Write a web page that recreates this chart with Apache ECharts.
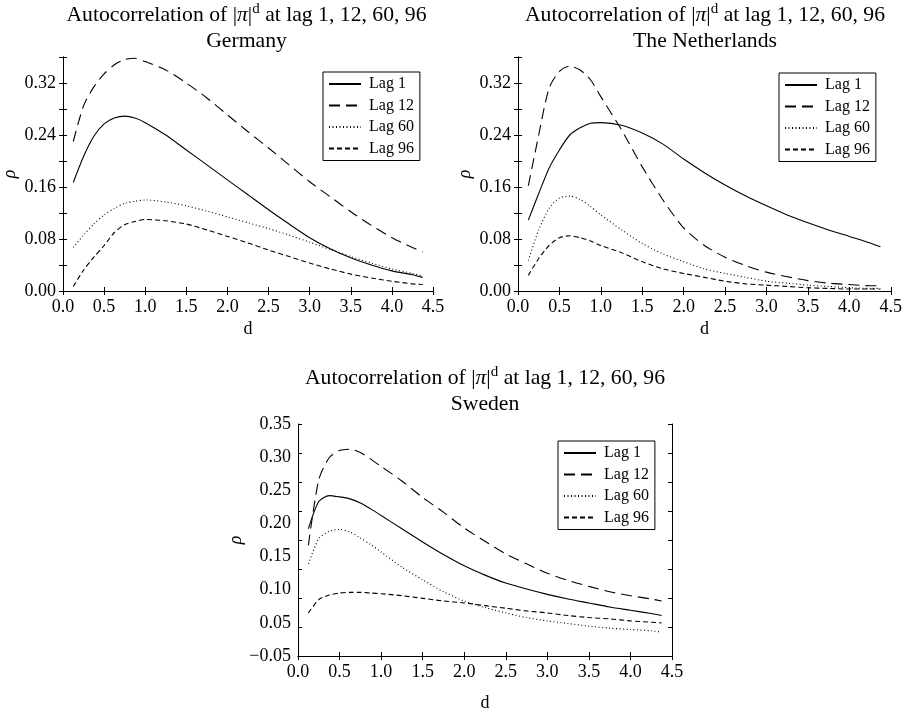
<!DOCTYPE html>
<html>
<head>
<meta charset="utf-8">
<script src="https://cdn.jsdelivr.net/npm/echarts@6/dist/echarts.min.js"></script>
<style>
html,body{margin:0;padding:0;background:#fff;}
#chart{width:905px;height:713px;}
</style>
</head>
<body>
<div id="chart"></div>
<script>
// ---------------- data ----------------
const dVals = [0.125,0.25,0.375,0.5,0.625,0.75,0.875,1.0,1.25,1.5,1.75,2.0,2.25,2.5,2.75,3.0,3.25,3.5,3.75,4.0,4.25,4.375];
const seriesNames = ['Lag 1','Lag 12','Lag 60','Lag 96'];
const countries = ['Germany','The Netherlands','Sweden'];

const germanyLag1  = [0.167,0.207,0.238,0.257,0.266,0.269,0.266,0.259,0.240,0.217,0.194,0.171,0.148,0.125,0.103,0.082,0.065,0.051,0.040,0.031,0.025,0.021];
const germanyLag12 = [0.230,0.285,0.314,0.334,0.348,0.356,0.358,0.353,0.340,0.320,0.297,0.271,0.245,0.220,0.194,0.168,0.145,0.122,0.101,0.082,0.067,0.060];
const germanyLag60 = [0.067,0.086,0.103,0.117,0.127,0.135,0.138,0.140,0.137,0.131,0.123,0.114,0.105,0.096,0.086,0.075,0.064,0.053,0.043,0.034,0.027,0.023];
const germanyLag96 = [0.007,0.032,0.052,0.070,0.090,0.102,0.107,0.110,0.108,0.103,0.094,0.084,0.074,0.063,0.053,0.043,0.034,0.026,0.020,0.015,0.011,0.010];

const nethLag1  = [0.109,0.150,0.189,0.217,0.240,0.251,0.258,0.259,0.255,0.243,0.226,0.203,0.182,0.163,0.146,0.131,0.117,0.105,0.094,0.084,0.074,0.068];
const nethLag12 = [0.162,0.240,0.312,0.338,0.346,0.340,0.325,0.299,0.248,0.191,0.140,0.097,0.070,0.052,0.039,0.029,0.022,0.016,0.012,0.010,0.008,0.008];
const nethLag60 = [0.047,0.094,0.127,0.143,0.146,0.141,0.130,0.117,0.094,0.073,0.057,0.045,0.034,0.027,0.021,0.015,0.012,0.009,0.007,0.005,0.004,0.004];
const nethLag96 = [0.024,0.050,0.070,0.082,0.085,0.082,0.077,0.070,0.059,0.045,0.034,0.027,0.021,0.015,0.011,0.009,0.007,0.005,0.004,0.003,0.003,0.003];

const swedenLag1  = [0.192,0.233,0.242,0.240,0.237,0.231,0.222,0.212,0.192,0.172,0.153,0.136,0.122,0.110,0.101,0.093,0.086,0.080,0.074,0.069,0.064,0.061];
const swedenLag12 = [0.167,0.266,0.299,0.310,0.312,0.307,0.297,0.286,0.264,0.239,0.217,0.193,0.173,0.154,0.139,0.125,0.114,0.105,0.097,0.091,0.086,0.083];
const swedenLag60 = [0.139,0.177,0.188,0.191,0.187,0.178,0.168,0.157,0.134,0.115,0.097,0.083,0.073,0.065,0.058,0.053,0.049,0.045,0.042,0.040,0.038,0.036];
const swedenLag96 = [0.065,0.085,0.092,0.095,0.096,0.096,0.095,0.094,0.091,0.087,0.083,0.080,0.076,0.072,0.068,0.065,0.061,0.058,0.056,0.053,0.051,0.050];

const xTickLabels = ['0.0','0.5','1.0','1.5','2.0','2.5','3.0','3.5','4.0','4.5'];
const yTickLabelsTop = ['0.00','0.08','0.16','0.24','0.32'];
const yTickLabelsSweden = ['\u22120.05','0.05','0.10','0.15','0.20','0.25','0.30','0.35'];

const countryData = [
  [germanyLag1, germanyLag12, germanyLag60, germanyLag96],
  [nethLag1, nethLag12, nethLag60, nethLag96],
  [swedenLag1, swedenLag12, swedenLag60, swedenLag96]
];

// ---------------- styles ----------------
const FONT = '"Liberation Serif","DejaVu Serif","Times New Roman",serif';
const lineTypes = ['solid', [11, 6], [1, 2.5], [5, 3]];
const grids = [
  {left: 60,  top: 57,  width: 373, height: 234},
  {left: 518, top: 57,  width: 374, height: 234},
  {left: 298, top: 424, width: 374, height: 234}
];
const legendPos = [{left: 323, top: 72}, {left: 779, top: 73}, {left: 558, top: 441}];
const titleTops = [2, 2, 365];

const axisLineStyle = {show: true, lineStyle: {color: '#000', width: 1}};
const tickIn = {show: true, inside: false, length: -4, lineStyle: {color: '#000', width: 1}};

const xAxes = [], yAxes = [], series = [], titles = [], legends = [];

grids.forEach((g, gi) => {
  xAxes.push({
    gridIndex: gi, type: 'value', position: 'bottom', min: 0, max: 4.5, interval: 0.5,
    axisLine: axisLineStyle, axisTick: tickIn, splitLine: {show: false},
    axisLabel: {color: '#000', fontFamily: FONT, fontSize: 18, margin: 7,
      formatter: (v) => xTickLabels[Math.round(v / 0.5)] || ''},
    name: 'd', nameLocation: 'middle', nameGap: gi === 2 ? 38 : 29,
    nameTextStyle: {color: '#000', fontFamily: FONT, fontSize: 18}
  });
  xAxes.push({
    gridIndex: gi, type: 'value', position: 'top', min: 0, max: 4.5, interval: 0.5,
    axisLine: axisLineStyle, axisTick: tickIn, splitLine: {show: false}, axisLabel: {show: false}
  });
});

[0, 1].forEach(gi => {
  yAxes.push({
    gridIndex: gi, type: 'value', position: 'left', min: 0, max: 0.36, interval: 0.04,
    axisLine: axisLineStyle, axisTick: tickIn, splitLine: {show: false},
    axisLabel: {color: '#000', fontFamily: FONT, fontSize: 18, margin: 7,
      formatter: (v, idx) => (idx % 2 === 0 ? (yTickLabelsTop[idx / 2] || '') : '')},
    name: '\u03c1', nameLocation: 'middle', nameGap: 44, nameRotate: 90,
    nameTextStyle: {color: '#000', fontFamily: FONT, fontSize: 18, fontStyle: 'italic'}
  });
  yAxes.push({
    gridIndex: gi, type: 'value', position: 'right', min: 0, max: 0.36, interval: 0.04,
    axisLine: axisLineStyle, axisTick: tickIn, splitLine: {show: false}, axisLabel: {show: false}
  });
});
yAxes.push({
  gridIndex: 2, type: 'value', position: 'left', min: 0, max: 0.35, interval: 0.05,
  axisLine: axisLineStyle, axisTick: {show: false}, splitLine: {show: false},
  axisLabel: {color: '#000', fontFamily: FONT, fontSize: 18, margin: 7,
    formatter: (v, idx) => yTickLabelsSweden[idx] || ''},
  name: '\u03c1', nameLocation: 'middle', nameGap: 52, nameRotate: 90,
  nameTextStyle: {color: '#000', fontFamily: FONT, fontSize: 18, fontStyle: 'italic'}
});
yAxes.push({
  gridIndex: 2, type: 'value', position: 'left', offset: 0, min: 0, max: 8, interval: 1,
  axisLine: {show: false}, axisTick: tickIn, splitLine: {show: false}, axisLabel: {show: false}
});
yAxes.push({
  gridIndex: 2, type: 'value', position: 'right', min: 0, max: 8, interval: 1,
  axisLine: axisLineStyle, axisTick: tickIn, splitLine: {show: false}, axisLabel: {show: false}
});

const yIdx = [0, 2, 4];
const xIdx = [0, 2, 4];

countryData.forEach((arrs, gi) => {
  arrs.forEach((arr, si) => {
    series.push({
      name: seriesNames[si], type: 'line', xAxisIndex: xIdx[gi], yAxisIndex: yIdx[gi],
      data: dVals.map((d, i) => [d, arr[i]]),
      showSymbol: false, symbol: 'none', smooth: 0.25,
      lineStyle: {color: '#000', width: 1.1, type: lineTypes[si]},
      itemStyle: {color: '#000'},
      emphasis: {disabled: true}
    });
  });
  const g = grids[gi];
  titles.push({
    text: 'Autocorrelation of |{pi|\u03c0}|{sup|d} at lag 1, 12, 60, 96\n' + countries[gi],
    left: g.left + g.width / 2, top: titleTops[gi], textAlign: 'center', padding: 0,
    textStyle: {
      color: '#000', fontFamily: FONT, fontSize: 21.7, fontWeight: 'normal', lineHeight: 26,
      rich: {
        pi: {fontFamily: FONT, fontSize: 21.7, fontStyle: 'italic', color: '#000', lineHeight: 26},
        sup: {fontFamily: FONT, fontSize: 15, color: '#000', verticalAlign: 'top', lineHeight: 16}
      }
    }
  });
  legends.push({
    data: seriesNames, orient: 'vertical', left: legendPos[gi].left, top: legendPos[gi].top,
    itemWidth: 32, itemHeight: 14, itemGap: 5.5, padding: [4, 6, 4, 5],
    borderColor: '#000', borderWidth: 1, backgroundColor: '#fff', borderRadius: 0,
    selectedMode: false,
    itemStyle: {opacity: 0},
    textStyle: {color: '#000', fontFamily: FONT, fontSize: 16, padding: [0, 0, 0, 3]}
  });
});

const chart = echarts.init(document.getElementById('chart'), null, {renderer: 'canvas'});
chart.setOption({
  animation: false,
  backgroundColor: '#fff',
  title: titles,
  legend: legends,
  grid: grids,
  xAxis: xAxes,
  yAxis: yAxes,
  series: series
});
</script>
</body>
</html>
